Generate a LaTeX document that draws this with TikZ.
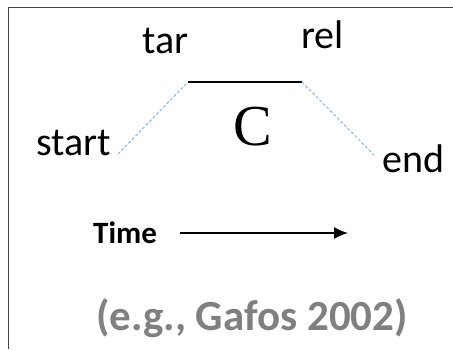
\documentclass[tikz,border=0pt]{standalone}
\usepackage{fontspec}
\setmainfont{Carlito}
\newfontfamily\serifC{Liberation Serif}
\usetikzlibrary{arrows.meta}
\definecolor{frameGray}{RGB}{70,70,70}
\definecolor{dashBlue}{RGB}{140,180,225}
\definecolor{capGray}{RGB}{128,128,128}
\begin{document}
\begin{tikzpicture}[x=1pt,y=-1pt,
  lbl/.style={inner sep=0pt, anchor=base west, font=\fontsize{40}{42}\selectfont},
  dashline/.style={draw=dashBlue, line width=1pt, dash pattern=on 3pt off 2pt},
  plateau/.style={draw=black, line width=2pt},
  framestyle/.style={draw=frameGray, line width=1.8pt}]
\useasboundingbox (0,0) rectangle (453,349);
\draw[framestyle] (8.5,349) -- (8.5,7.5) -- (453,7.5);
% labels
\node[lbl] (start) at (36,155) {start};
\node[lbl] (tar) at (142,53) {tar};
\node[lbl] (rel) at (301,48) {rel};
\node[lbl] (end) at (382,172) {end};
\node[inner sep=0pt, font=\serifC\fontsize{58}{60}\selectfont] (C) at (253,127) {C};
% gesture shape
\coordinate (s) at (118,154);
\coordinate (t) at (188,82);
\coordinate (r) at (302,82);
\coordinate (e) at (375,156);
\draw[dashline] (s) -- (t);
\draw[plateau] (t) -- (r);
\draw[dashline] (r) -- (e);
% time arrow
\node[inner sep=0pt, anchor=base west, font=\bfseries\fontsize{31}{33}\selectfont] (time) at (93,243) {Time};
\coordinate (a0) at (180,233);
\coordinate (a1) at (348,233);
\draw[line width=1.5pt, -{Latex[length=14pt,width=12pt]}] (a0) -- (a1);
% caption
\node[inner sep=0pt, anchor=base, text=capGray, font=\bfseries\fontsize{43}{45}\selectfont] (cap) at (252,330) {(e.g., Gafos 2002)};
\end{tikzpicture}
\end{document}
